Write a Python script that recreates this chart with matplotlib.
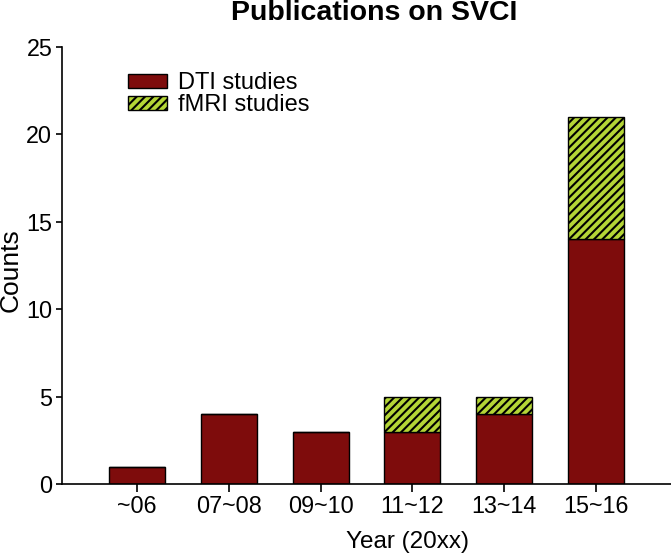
import numpy
import matplotlib
matplotlib.use('Agg')
import matplotlib.pyplot as plt

years = ['~06', '07~08', '09~10', '11~12', '13~14', '15~16']
dti_counts = [1, 4, 3, 3, 4, 14]
fmri_counts = [0, 0, 0, 2, 1, 7]

plt.rcParams['font.family'] = ['Liberation Sans', 'DejaVu Sans']
plt.rcParams['hatch.linewidth'] = 1.5
plt.rcParams['hatch.color'] = 'black'

fig = plt.figure(figsize=(6.71, 5.55), dpi=100)
# axes: x from 62 px to the right edge, y=0 at 484 px, y=25 at 47 px
axes = fig.add_axes([62 / 671, 1 - 484 / 555, 609 / 671, 437 / 555])

x_poss = numpy.arange(len(years))
width = 0.61

axes.bar(x_poss, dti_counts, width=width, color='#7e0c0c', edgecolor='black',
         linewidth=1.0, label='DTI studies')
axes.bar(x_poss, fmri_counts, width=width, bottom=dti_counts, color='#b4d536',
         edgecolor='black', linewidth=1.0, hatch='////', label='fMRI studies')

axes.set_xlim(-0.82, 5.82)
axes.set_ylim(0, 25)
axes.set_yticks([0, 5, 10, 15, 20, 25])
axes.set_xticks(x_poss)
axes.set_xticklabels(years)

for side in ['top', 'right']:
    axes.spines[side].set_visible(False)
for side in ['left', 'bottom']:
    axes.spines[side].set_linewidth(1.2)
axes.tick_params(direction='out', width=1.2, labelsize=16.8)
axes.tick_params(axis='x', length=6, pad=2)
axes.tick_params(axis='y', length=4, pad=3)

axes.set_xlabel('Year (20xx)', fontsize=17.5, va='center')
axes.xaxis.set_label_coords(0.568, (484 - 542) / 437)
axes.set_ylabel('Counts', fontsize=19, va='center')
axes.yaxis.set_label_coords((11 - 62) / 609, (484 - 270) / 437)

fig.text(374 / 671, 1 - 13 / 555, 'Publications on SVCI', fontsize=20.5,
         fontweight='bold', ha='center', va='center')

axes.legend(loc='upper left', bbox_to_anchor=((128 - 62) / 609, (484 - 72) / 437),
            frameon=False, fontsize=17, handlelength=1.65, handleheight=0.55,
            labelspacing=0.0, handletextpad=0.47, borderpad=0, borderaxespad=0)

fig.savefig('out.png', dpi=100)
